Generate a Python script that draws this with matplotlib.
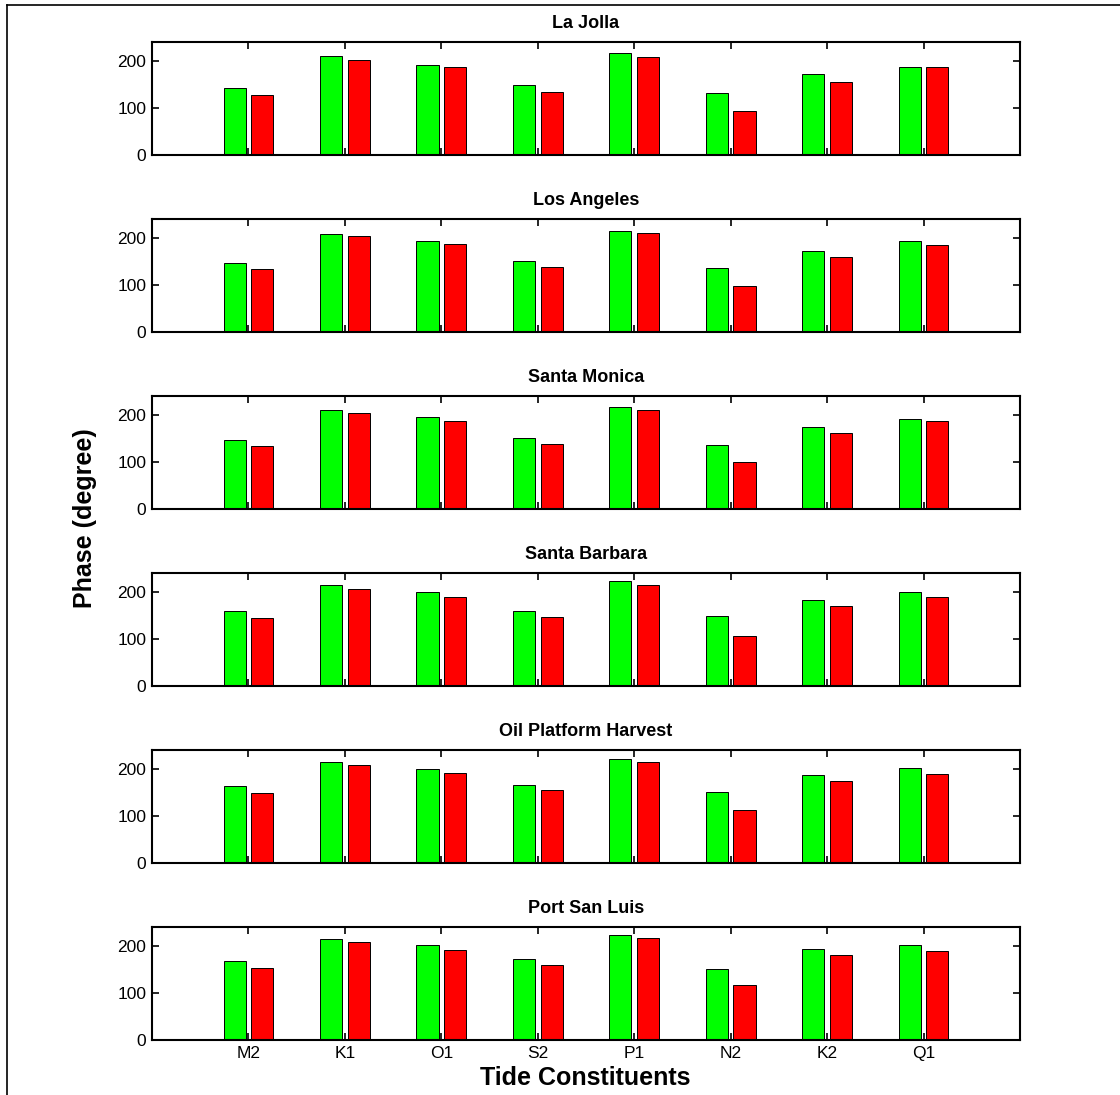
#!/usr/bin/python3
# coding: utf-8
import numpy as np
import matplotlib
matplotlib.use('Agg')
import matplotlib.pyplot as plt
from matplotlib.lines import Line2D

plt.rcParams['font.family'] = ['Liberation Sans', 'DejaVu Sans']

constituents = ['M2', 'K1', 'O1', 'S2', 'P1', 'N2', 'K2', 'Q1']
stations = ['La Jolla', 'Los Angeles', 'Santa Monica', 'Santa Barbara',
            'Oil Platform Harvest', 'Port San Luis']

# phase (degree), green / red bars per station
la_jolla_g = [142, 210, 192, 149, 216, 132, 171, 186]
la_jolla_r = [128, 202, 186, 133, 209, 94, 156, 186]
los_angeles_g = [146, 208, 194, 150, 214, 136, 172, 193]
los_angeles_r = [134, 204, 187, 139, 211, 98, 160, 185]
santa_monica_g = [146, 210, 195, 151, 216, 135, 174, 192]
santa_monica_r = [133, 204, 187, 139, 211, 99, 161, 186]
santa_barbara_g = [159, 214, 200, 159, 222, 149, 182, 199]
santa_barbara_r = [144, 207, 189, 147, 214, 107, 169, 188]
harvest_g = [163, 214, 200, 165, 221, 150, 187, 201]
harvest_r = [148, 208, 192, 154, 215, 112, 175, 189]
port_san_luis_g = [167, 214, 201, 171, 223, 151, 194, 201]
port_san_luis_r = [153, 209, 191, 159, 217, 117, 181, 190]

green_sets = [la_jolla_g, los_angeles_g, santa_monica_g, santa_barbara_g,
              harvest_g, port_san_luis_g]
red_sets = [la_jolla_r, los_angeles_r, santa_monica_r, santa_barbara_r,
            harvest_r, port_san_luis_r]

W, H = 1120, 1095
fig = plt.figure(figsize=(W / 100, H / 100), dpi=100)

x = np.arange(1, len(constituents) + 1)
off = 0.143
bw = 0.229

for i, (name, g, r) in enumerate(zip(stations, green_sets, red_sets)):
    top = 42 + 177 * i
    ax = fig.add_axes([152 / W, 1 - (top + 113) / H, 868 / W, 113 / H])
    ax.bar(x - off, g, width=bw, color='#00ff00', edgecolor='black', linewidth=0.7)
    ax.bar(x + off, r, width=bw, color='#ff0000', edgecolor='black', linewidth=0.7)
    ax.set_xlim(0, 9)
    ax.set_ylim(0, 240)
    ax.set_yticks([0, 100, 200])
    ax.set_xticks(x)
    if i == len(stations) - 1:
        ax.set_xticklabels(constituents)
    else:
        ax.set_xticklabels([])
    ax.tick_params(direction='in', length=5, width=1.2, labelsize=12.5,
                   top=True, right=True, pad=4)
    for s in ax.spines.values():
        s.set_linewidth(1.5)
    ax.set_title(name, fontsize=13, fontweight='bold', pad=10)

fig.text(585 / W, 1 - 1078 / H, 'Tide Constituents', fontsize=18,
         fontweight='bold', ha='center', va='center')
fig.text(85 / W, 1 - 518 / H, 'Phase (degree)', fontsize=18,
         fontweight='bold', ha='center', va='center', rotation=90)

# frame lines (top and left) as in the original figure
fig.add_artist(Line2D([7 / W, 7 / W], [0, 1 - 5 / H], color='black', linewidth=1.2))
fig.add_artist(Line2D([7 / W, 1], [1 - 5 / H, 1 - 5 / H], color='black', linewidth=1.2))

fig.savefig('out.png', dpi=100)
